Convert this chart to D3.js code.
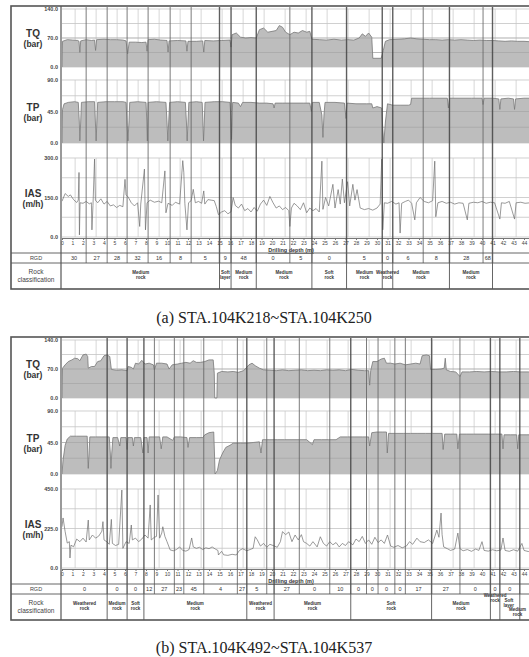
<!DOCTYPE html>
<html><head><meta charset="utf-8">
<script src="https://cdn.jsdelivr.net/npm/d3@7"></script>
<style>
body{margin:0;background:#fff;}
svg{display:block;font-family:"Liberation Sans",Arial,sans-serif;}
</style></head>
<body><svg id="chart"></svg>
<script>
// ---- (a) STA.104K218~STA.104K250 ----
var tqA = [[0,0],[0.05,62],[0.5,66],[1.0,65],[1.5,64],[1.62,62],[1.7,35],[1.78,63],[2.3,66],[2.8,64],[3.1,65],[3.2,40],[3.3,66],[4.0,67],[4.6,66],[5.2,66],[5.8,65],[6.1,63],[6.25,32],[6.4,60],[7.0,60],[7.6,59],[8.0,60],[8.1,38],[8.2,66],[8.8,67],[9.4,65],[10.0,64],[10.1,36],[10.2,63],[11.0,64],[11.8,63],[11.9,38],[12.0,62],[12.8,62],[13.4,63],[13.5,36],[13.6,64],[14.4,63],[15.2,64],[16.0,65],[16.1,48],[16.2,78],[16.6,82],[17.0,72],[17.5,70],[18.0,71],[18.5,70],[18.8,90],[19.2,94],[19.6,84],[20.0,86],[20.4,88],[20.7,100],[21.0,96],[21.3,84],[21.7,78],[22.1,84],[22.5,82],[22.9,88],[23.3,84],[23.6,86],[23.8,67],[24.5,66],[25.2,65],[25.9,67],[26.6,65],[27.2,66],[27.8,65],[28.3,70],[28.6,80],[28.9,74],[29.2,82],[29.5,72],[29.6,21],[30.4,21],[30.6,40],[30.8,62],[31.2,66],[32.0,67],[32.6,68],[33.2,70],[33.8,68],[34.4,67],[35.0,66],[35.6,66],[36.2,65],[36.8,66],[37.4,65],[38.0,66],[38.6,65],[39.2,64],[39.8,65],[40.4,64],[41.0,64],[41.6,63],[42.2,62],[42.8,63],[43.4,62],[44.0,62],[44.6,61],[45.5,61]];
var tpA = [[0,0],[0.05,48],[0.2,56],[0.6,58],[1.2,59],[1.55,58],[1.65,30],[1.7,3],[1.78,30],[1.85,58],[2.5,59],[3.1,59],[3.18,30],[3.25,3],[3.32,30],[3.4,58],[4.2,59],[5.0,59],[5.8,59],[6.1,58],[6.2,25],[6.28,3],[6.38,30],[6.45,58],[7.2,59],[8.0,58],[8.08,30],[8.13,3],[8.2,58],[9.0,59],[9.9,58],[10.0,30],[10.08,3],[10.16,30],[10.25,58],[11.0,59],[11.75,58],[11.85,30],[11.92,3],[12.0,30],[12.08,58],[12.8,59],[13.35,58],[13.42,30],[13.48,3],[13.55,30],[13.62,58],[14.5,59],[15.3,59],[16.0,58],[16.1,30],[16.15,5],[16.25,58],[16.8,57],[17.0,52],[17.2,58],[18.0,58],[18.8,57],[19.5,57],[20.1,56],[20.2,50],[20.3,57],[21.0,57],[22.0,57],[23.0,57],[23.6,57],[23.75,45],[23.85,58],[24.5,58],[24.75,40],[24.85,8],[24.95,40],[25.05,58],[26.0,58],[26.9,57],[27.05,35],[27.15,57],[28.0,56],[29.0,56],[29.5,56],[29.6,50],[30.0,52],[30.45,50],[30.55,20],[30.65,0],[30.8,30],[31.0,56],[31.5,54],[32.2,54],[33.0,54],[33.2,55],[33.3,64],[34.0,64],[35.0,64],[36.0,64],[36.7,64],[36.8,50],[36.9,64],[38.0,64],[39.0,64],[40.0,64],[40.1,55],[40.2,64],[41.0,64],[41.6,63],[41.7,48],[41.8,63],[42.5,64],[43.0,63],[43.1,48],[43.2,63],[44.0,64],[45.5,64]];
var iasA = [[0,136],[0.3,165],[0.6,154],[0.8,160],[1.1,142],[1.4,131],[1.55,140],[1.62,245],[1.66,8],[1.72,130],[2.0,128],[2.3,135],[2.6,126],[2.8,130],[2.85,27],[2.95,120],[3.1,296],[3.18,140],[3.4,130],[3.7,145],[4.0,125],[4.3,135],[4.6,118],[4.9,122],[5.2,112],[5.5,120],[5.8,115],[6.0,219],[6.1,160],[6.3,152],[6.6,130],[6.9,118],[7.2,130],[7.4,40],[7.5,125],[7.85,258],[7.95,27],[8.1,130],[8.4,140],[8.8,132],[9.2,136],[9.5,130],[9.8,251],[9.9,92],[10.1,128],[10.5,120],[10.8,132],[11.2,125],[11.5,290],[11.6,246],[11.7,128],[11.9,27],[12.05,130],[12.3,138],[12.5,181],[12.7,130],[13.0,135],[13.3,128],[13.5,175],[13.6,125],[13.9,142],[14.2,140],[14.5,138],[14.7,115],[14.9,85],[15.2,95],[15.5,100],[15.8,88],[16.1,96],[16.3,150],[16.5,120],[16.8,110],[17.1,125],[17.4,100],[17.7,108],[18.0,95],[18.3,112],[18.6,98],[18.9,125],[19.2,140],[19.5,120],[19.8,154],[20.1,130],[20.4,110],[20.7,118],[21.0,104],[21.3,112],[21.6,100],[21.7,40],[21.85,110],[22.1,128],[22.4,118],[22.7,104],[23.0,130],[23.3,92],[23.6,110],[23.9,100],[24.2,108],[24.5,95],[24.75,288],[24.85,105],[25.1,150],[25.4,118],[25.8,200],[26.0,110],[26.3,180],[26.5,125],[26.7,220],[26.9,130],[27.2,210],[27.4,118],[27.7,200],[27.9,140],[28.1,180],[28.4,110],[28.8,104],[29.2,108],[29.6,102],[30.0,110],[30.3,125],[30.45,296],[30.55,27],[30.7,130],[31.0,128],[31.4,135],[31.8,125],[32.1,130],[32.2,15],[32.35,128],[32.7,135],[33.0,140],[33.3,128],[33.6,65],[33.75,130],[34.1,150],[34.5,135],[34.9,130],[35.3,138],[35.5,288],[35.6,77],[35.8,130],[36.2,135],[36.6,128],[37.0,132],[37.4,125],[37.8,130],[38.2,128],[38.6,65],[38.75,128],[39.2,132],[39.6,130],[40.0,135],[40.4,128],[40.8,132],[41.2,130],[41.7,68],[41.85,130],[42.2,128],[42.6,135],[43.1,68],[43.25,130],[43.7,132],[44.1,128],[44.6,130],[45.5,128]];
var rgdEdgesA = [0, 2.3, 4.3, 6.2, 8.2, 10.3, 12.3, 15.0, 16.1, 18.5, 21.7, 23.8, 27.1, 30.5, 31.5, 34.4, 36.9, 40.1, 41.0];
var rgdValsA = ["30","27","28","32","16","8","5","9","48","0","5","0","5","0","6","8","28","68"];
var rockEdgesA = [0, 15.0, 16.1, 18.5, 23.8, 27.1, 30.5, 31.5, 36.9, 41.0];
var rockNamesA = ["Medium rock","Soft layer","Medium rock","Medium rock","Soft rock","Medium rock","Weathered rock","Medium rock","Medium rock"];

// ---- (b) STA.104K492~STA.104K537 ----
var tqB = [[0,0],[0.05,72],[0.3,80],[0.6,88],[0.95,92],[1.2,96],[1.5,95],[1.7,90],[2.0,104],[2.3,106],[2.45,100],[2.5,72],[2.8,76],[3.1,76],[3.4,88],[3.7,90],[4.0,102],[4.3,104],[4.55,100],[4.7,69],[5.2,67],[5.7,68],[6.2,66],[6.3,76],[6.6,74],[6.8,70],[7.0,84],[7.3,82],[7.6,91],[7.9,82],[8.3,84],[8.7,80],[8.8,68],[9.0,84],[9.5,84],[10.0,82],[10.2,70],[10.5,80],[11.0,82],[11.4,84],[11.8,86],[12.2,84],[12.5,90],[12.8,86],[13.2,86],[13.6,88],[14.0,92],[14.4,92],[14.5,60],[14.55,0],[14.75,0],[14.8,60],[15.2,64],[15.8,63],[16.3,64],[16.8,62],[17.3,66],[17.8,80],[18.1,84],[18.4,78],[18.8,72],[19.2,68],[19.8,67],[20.4,66],[21.0,68],[21.6,66],[22.2,67],[22.8,68],[23.4,66],[24.0,67],[24.6,66],[25.2,68],[25.8,67],[26.4,68],[27.0,66],[27.6,69],[28.2,67],[28.8,66],[29.2,66],[29.3,31],[29.4,66],[29.6,88],[30.0,88],[30.4,94],[30.7,96],[30.9,84],[31.3,84],[31.7,82],[32.2,84],[32.7,80],[33.2,82],[33.7,84],[34.1,82],[34.3,102],[34.7,104],[35.0,102],[35.1,69],[35.6,69],[36.1,70],[36.4,72],[36.5,96],[36.6,68],[37.0,64],[37.5,63],[37.9,52],[38.1,63],[38.8,63],[39.5,64],[40.2,63],[40.9,64],[41.6,63],[42.3,63],[43.0,64],[43.7,63],[44.4,63],[45.5,62]];
var tpB = [[0,0],[0.1,20],[0.3,41],[0.5,50],[0.8,54],[1.4,54],[2.0,54],[2.4,54],[2.45,30],[2.5,8],[2.58,30],[2.65,53],[3.2,53],[3.8,53],[4.5,53],[4.6,30],[4.66,8],[4.74,30],[4.85,52],[5.3,52],[5.5,40],[5.6,52],[6.1,52],[6.2,35],[6.28,52],[6.7,52],[6.8,40],[6.9,52],[7.5,52],[7.7,30],[7.8,52],[8.1,52],[8.2,30],[8.3,53],[8.8,53],[9.3,53],[9.45,36],[9.6,53],[10.0,53],[10.55,48],[10.7,53],[11.3,53],[11.9,52],[12.0,38],[12.15,52],[12.8,52],[13.4,52],[13.6,56],[14.0,59],[14.45,60],[14.52,30],[14.58,0],[14.8,5],[15.0,20],[15.3,30],[15.6,38],[16.0,41],[16.3,44],[17.0,44],[17.6,44],[18.2,45],[18.8,46],[18.95,30],[19.1,49],[19.8,49],[20.5,49],[21.2,49],[21.9,49],[22.6,49],[23.3,49],[23.85,42],[24.0,49],[24.7,49],[25.4,49],[26.1,49],[26.5,53],[27.2,53],[27.9,53],[28.6,53],[29.2,53],[29.3,40],[29.5,59],[30.0,60],[30.5,60],[30.9,60],[30.98,30],[31.1,58],[31.8,58],[32.5,58],[33.2,58],[33.9,58],[34.6,58],[35.3,58],[36.2,58],[36.3,35],[36.45,57],[37.0,57],[37.6,57],[37.7,36],[37.85,57],[38.5,57],[39.2,57],[39.9,57],[40.6,57],[41.3,57],[41.9,57],[42.0,36],[42.1,56],[42.7,56],[43.3,56],[43.4,36],[43.5,56],[44.2,56],[45.5,56]];
var iasB = [[0,235],[0.1,285],[0.3,207],[0.5,142],[0.7,150],[0.76,57],[0.85,130],[1.1,121],[1.4,165],[1.7,150],[2.0,170],[2.3,148],[2.5,273],[2.6,160],[2.9,188],[3.2,170],[3.5,182],[3.8,210],[3.9,264],[4.0,160],[4.3,148],[4.5,135],[4.7,277],[4.8,140],[5.1,128],[5.4,135],[5.7,444],[5.8,112],[6.1,150],[6.4,140],[6.6,245],[6.7,160],[7.0,170],[7.3,150],[7.6,165],[7.9,188],[8.2,170],[8.4,359],[8.5,160],[8.8,175],[9.0,180],[9.15,416],[9.3,170],[9.5,199],[9.6,235],[9.8,180],[10.0,150],[10.3,103],[10.6,98],[10.9,105],[11.2,120],[11.5,100],[11.8,96],[12.1,105],[12.35,171],[12.5,120],[12.8,112],[13.1,118],[13.4,105],[13.7,115],[14.0,110],[14.3,120],[14.6,108],[14.85,100],[14.9,74],[15.2,95],[15.4,75],[15.8,72],[16.2,78],[16.6,74],[16.9,100],[17.2,110],[17.6,98],[17.9,105],[18.2,112],[18.4,178],[18.6,160],[18.9,125],[19.2,140],[19.5,118],[19.8,135],[20.1,128],[20.5,118],[20.8,150],[21.0,207],[21.3,190],[21.6,205],[21.9,150],[22.2,188],[22.5,160],[22.8,190],[23.0,150],[23.3,140],[23.6,125],[23.9,150],[24.3,120],[24.6,178],[24.9,140],[25.2,125],[25.5,150],[25.8,132],[26.1,145],[26.4,120],[26.7,140],[27.0,128],[27.3,150],[27.7,132],[28.0,165],[28.3,150],[28.6,180],[28.9,140],[29.2,160],[29.5,135],[29.8,175],[30.1,145],[30.4,160],[30.7,140],[31.0,188],[31.3,125],[31.6,118],[32.0,128],[32.4,115],[32.8,125],[33.1,150],[33.4,135],[33.8,170],[34.1,150],[34.5,145],[34.9,160],[35.3,140],[35.7,216],[35.9,175],[36.1,313],[36.2,190],[36.35,120],[36.7,110],[37.0,100],[37.4,108],[37.7,199],[37.9,110],[38.2,98],[38.6,105],[39.0,95],[39.4,108],[39.7,100],[40.0,150],[40.2,100],[40.6,96],[41.0,104],[41.4,98],[41.8,102],[42.0,171],[42.2,100],[42.6,95],[43.0,104],[43.4,96],[43.8,140],[44.0,100],[44.4,94],[45.5,98]];
var rgdEdgesB = [0, 4.3, 6.2, 7.8, 8.8, 10.7, 11.6, 13.5, 16.7, 17.6, 19.5, 20.2, 22.6, 25.5, 27.5, 29.0, 30.1, 31.7, 32.7, 35.2, 37.9, 40.8, 41.7, 43.6];
var rgdValsB = ["0","0","0","12","27","23","45","4","27","5","","27","0","10","0","0","0","0","17","27","0","0","0"];
var rockEdgesB = [0, 4.3, 6.2, 7.8, 17.6, 20.2, 27.5, 35.2, 40.8, 41.7, 43.6, 46];
var rockNamesB = ["Weathered rock","Medium rock","Soft rock","Medium rock","Weathered rock","Medium rock","Soft rock","Medium rock","Weathered rock","Soft layer","Medium rock"];

var depthTicks = d3.range(0, 45);
var tqTicks = [0, 70, 140];
var tpTicks = [0, 45, 90];
var iasTicksA = [0, 150, 300];
var iasTicksB = [0, 225, 450];

var width = 529, height = 657;
var svg = d3.select('#chart').attr('width', width).attr('height', height);
var x = d3.scaleLinear().domain([0, 50]).range([62, 587]);
var fmt = d3.format('.1f');

svg.append('defs').append('clipPath').attr('id', 'plotclip')
	.append('rect').attr('x', 62).attr('y', 0).attr('width', 600).attr('height', height);

var panels = [
	{top: 6, tq: tqA, tp: tpA, ias: iasA, iasTicks: iasTicksA, rgdEdges: rgdEdgesA, rgdVals: rgdValsA,
	 rockEdges: rockEdgesA, rockNames: rockNamesA, rockShift: {}, caption: '(a) STA.104K218~STA.104K250', capY: 323},
	{top: 337, tq: tqB, tp: tpB, ias: iasB, iasTicks: iasTicksB, rgdEdges: rgdEdgesB, rgdVals: rgdValsB,
	 rockEdges: rockEdgesB, rockNames: rockNamesB, rockShift: {8: [0, -8], 9: [-1, -3], 10: [-15, 6]},
	 caption: '(b) STA.104K492~STA.104K537', capY: 653}
];

panels.forEach(drawPanel);

function drawPanel(p) {
	var T = p.top;
	var g = svg.append('g');

	var charts = [
		{data: p.tq, ticks: tqTicks, y0: T + 61, y1: T + 3, label: 'TQ', unit: '(bar)', fill: true},
		{data: p.tp, ticks: tpTicks, y0: T + 137, y1: T + 74, label: 'TP', unit: '(bar)', fill: true},
		{data: p.ias, ticks: p.iasTicks, y0: T + 231, y1: T + 152, label: 'IAS', unit: '(m/h)', fill: false}
	];

	charts.forEach(function(c) {
		var y = d3.scaleLinear().domain([c.ticks[0], c.ticks[2]]).range([c.y0, c.y1]);
		var cg = g.append('g').attr('clip-path', 'url(#plotclip)');

		// light grid
		cg.selectAll('.hg').data(d3.range(0, 5)).enter().append('line')
			.attr('x1', x(0)).attr('x2', 600)
			.attr('y1', function(i) { return y(c.ticks[2] * i / 4); })
			.attr('y2', function(i) { return y(c.ticks[2] * i / 4); })
			.attr('stroke', '#bbb').attr('stroke-width', 0.7);
		cg.selectAll('.vg').data(d3.range(1.25, 50, 2)).enter().append('line')
			.attr('x1', function(d) { return x(d); }).attr('x2', function(d) { return x(d); })
			.attr('y1', c.y1).attr('y2', c.y0)
			.attr('stroke', '#c4c4c4').attr('stroke-width', 0.7);

		if (c.fill) {
			var area = d3.area()
				.x(function(d) { return x(d[0]); })
				.y0(c.y0)
				.y1(function(d) { return y(d[1]); });
			cg.append('path').datum(c.data).attr('d', area)
				.attr('fill', '#bdbdbd').attr('stroke', 'none');
			cg.append('path').datum(c.data)
				.attr('d', d3.line().x(function(d) { return x(d[0]); }).y(function(d) { return y(d[1]); }))
				.attr('fill', 'none').attr('stroke', '#777').attr('stroke-width', 0.8);
			// grid shows through the fill
			cg.selectAll('.hg2').data([1, 2]).enter().append('line')
				.attr('x1', x(0)).attr('x2', 600)
				.attr('y1', function(i) { return y(c.ticks[2] * i / 4); })
				.attr('y2', function(i) { return y(c.ticks[2] * i / 4); })
				.attr('stroke', '#8e8e8e').attr('stroke-width', 0.6).attr('opacity', 0.6);
		} else {
			cg.append('path').datum(c.data)
				.attr('d', d3.line().x(function(d) { return x(d[0]); }).y(function(d) { return y(d[1]); }))
				.attr('fill', 'none').attr('stroke', '#6e6e6e').attr('stroke-width', 0.7);
		}

		// y tick labels
		g.selectAll('.yt').data(c.ticks).enter().append('text')
			.attr('x', 58).attr('y', function(d) { return y(d) + 2; })
			.attr('text-anchor', 'end')
			.style('font-size', '5.5px').style('font-weight', 'bold').style('fill', '#444')
			.text(function(d) { return fmt(d); });

		var mid = (c.y0 + c.y1) / 2;
		g.append('text').attr('x', 33).attr('y', mid - 1)
			.attr('text-anchor', 'middle')
			.style('font-size', '10px').style('font-weight', 'bold').style('fill', '#333')
			.text(c.label);
		g.append('text').attr('x', 33).attr('y', mid + 9)
			.attr('text-anchor', 'middle')
			.style('font-size', '8.5px').style('font-weight', 'bold').style('fill', '#333')
			.text(c.unit);
	});

	// depth axis
	var axis = d3.axisBottom(x).tickValues(depthTicks).tickSize(2).tickFormat(d3.format('d'));
	var ax = g.append('g').attr('transform', 'translate(0,' + (T + 232) + ')').call(axis);
	ax.select('.domain').attr('stroke', '#555').attr('stroke-width', 0.8);
	ax.selectAll('.tick line').attr('stroke', '#777');
	ax.selectAll('.tick text').attr('y', 3.5).style('font-size', '5px').style('fill', '#444').style('font-family', '"Liberation Sans",Arial,sans-serif');
	g.append('text').attr('x', 291).attr('y', T + 246)
		.attr('text-anchor', 'middle')
		.style('font-size', '5.5px').style('font-weight', 'bold').style('fill', '#333')
		.style('text-decoration', 'underline')
		.text('Drilling depth (m)');

	// section lines through charts and RGD row
	var rockSet = {};
	p.rockEdges.forEach(function(e) { rockSet[e] = true; });
	var inner = p.rgdEdges.slice(1);
	g.append('g').attr('clip-path', 'url(#plotclip)')
		.selectAll('line').data(inner).enter().append('line')
		.attr('x1', function(d) { return x(d); }).attr('x2', function(d) { return x(d); })
		.attr('y1', T + 1).attr('y2', T + 257)
		.attr('stroke', function(d) { return rockSet[d] ? '#444' : '#666'; })
		.attr('stroke-width', function(d) { return rockSet[d] ? 1.4 : 1; })
		.attr('opacity', 0.85);

	// rock row dividers
	g.append('g').attr('clip-path', 'url(#plotclip)')
		.selectAll('line').data(p.rockEdges.slice(1)).enter().append('line')
		.attr('x1', function(d) { return x(d); }).attr('x2', function(d) { return x(d); })
		.attr('y1', T + 257).attr('y2', T + 283)
		.attr('stroke', '#555').attr('stroke-width', 0.9);

	// RGD values
	g.selectAll('.rgd').data(p.rgdVals).enter().append('text')
		.attr('x', function(d, i) { return x((p.rgdEdges[i] + p.rgdEdges[i + 1]) / 2); })
		.attr('y', T + 254)
		.attr('text-anchor', 'middle')
		.style('font-size', '5.5px').style('fill', '#333')
		.text(function(d) { return d; });

	// rock names (two lines)
	p.rockNames.forEach(function(name, i) {
		var sh = p.rockShift[i] || [0, 0];
		var cx = x((p.rockEdges[i] + p.rockEdges[i + 1]) / 2) + sh[0];
		var parts = name.split(' ');
		var t = g.append('text').attr('x', cx).attr('y', T + 268 + sh[1])
			.attr('text-anchor', 'middle')
			.style('font-size', '4.5px').style('font-weight', 'bold').style('fill', '#333');
		t.append('tspan').attr('x', cx).text(parts[0]);
		t.append('tspan').attr('x', cx).attr('dy', 5).text(parts[1]);
	});

	// table frame
	g.append('rect').attr('x', 11).attr('y', T).attr('width', 600).attr('height', 283)
		.attr('fill', 'none').attr('stroke', '#555').attr('stroke-width', 1.6);
	g.append('line').attr('x1', 61).attr('x2', 61).attr('y1', T).attr('y2', T + 283)
		.attr('stroke', '#555').attr('stroke-width', 1.2);
	[T + 247, T + 257].forEach(function(yy) {
		g.append('line').attr('x1', 11).attr('x2', 620).attr('y1', yy).attr('y2', yy)
			.attr('stroke', '#555').attr('stroke-width', 0.9);
	});
	g.append('text').attr('x', 36).attr('y', T + 254).attr('text-anchor', 'middle')
		.style('font-size', '5.5px').style('fill', '#444').text('RGD');
	g.append('text').attr('x', 36).attr('y', T + 268).attr('text-anchor', 'middle')
		.style('font-size', '6.5px').style('fill', '#444').text('Rock');
	g.append('text').attr('x', 36).attr('y', T + 276).attr('text-anchor', 'middle')
		.style('font-size', '6.5px').style('fill', '#444').text('classification');

	svg.append('text').attr('x', 264).attr('y', p.capY).attr('text-anchor', 'middle')
		.style('font-family', '"Liberation Serif","Times New Roman",serif')
		.style('font-size', '16px').style('fill', '#222')
		.text(p.caption);
}
</script>
</body></html>
